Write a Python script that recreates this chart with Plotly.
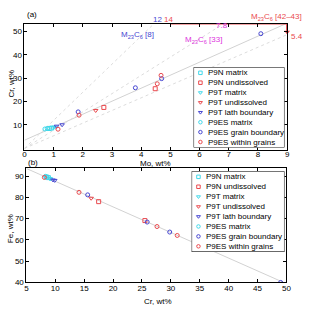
import plotly.graph_objects as go

W, H = 310, 314

# ---------------- data ----------------
labels = ["P9N matrix", "P9N undissolved", "P9T matrix", "P9T undissolved",
          "P9T lath boundary", "P9ES matrix", "P9ES grain boundary", "P9ES within grains"]
CY, RD, BL, MG = "#40d8ea", "#ea4a4e", "#4646d2", "#dd33dd"
symbols = ["square-open", "square-open", "triangle-down-open", "triangle-down-open",
           "triangle-down-open", "circle-open", "circle-open", "circle-open"]
colors = [CY, RD, CY, RD, BL, CY, BL, RD]

# panel (a): Mo vs Cr (wt%)
mo_a = [[0.85, 0.93], [2.72, 4.48], [0.97, 1.03], [2.44], [1.10, 1.29],
        [0.70, 0.78], [1.84, 3.80, 4.70, 8.10], [1.15, 1.87, 4.55, 4.68]]
cr_a = [[8.5, 8.7], [17.5, 25.5], [8.9, 9.1], [16.2], [9.5, 10.1],
        [8.3, 8.5], [15.6, 25.9, 29.8, 49.0], [8.2, 14.2, 27.6, 31.2]]

# panel (b): Cr vs Fe (wt%)
cr_b = [[8.5, 8.8], [17.5, 25.5], [9.0, 9.2], [16.2], [9.6, 9.9],
        [8.3, 8.6], [15.6, 25.9, 29.8, 49.0], [8.1, 14.1, 27.6, 31.1]]
fe_b = [[89.6, 89.3], [78.0, 69.1], [88.9, 88.7], [79.6], [88.2, 88.0],
        [89.9, 89.5], [81.2, 68.4, 63.7, 40.0], [89.4, 82.4, 66.3, 62.1]]

# fitted lines
fit_a_mo = [0, 9]
fit_a_cr = [3.5, 53.5]
fit_b_cr = [5, 49.5]
fit_b_fe = [93.6, 40.0]

# Cr/Mo ratio guide lines (dotted)
ratios = [5.4, 7.8, 12.0]

# ---------------- helpers ----------------
def px(x):
    return x / W

def py(y):
    return 1 - y / H

AX_A_X = [px(23), px(291.7)]
AX_A_Y = [py(152), py(24)]
AX_B_X = [px(25), px(291)]
AX_B_Y = [py(287), py(171)]
LEG_A = (196, 289, 68.3, 150)
LEG_B = (194, 289, 174, 256)

FONT = "Liberation Sans, Arial, sans-serif"
LINE_GREY = "#d2d2d2"

fig = go.Figure()

# fit + guide lines panel (a)
fig.add_trace(go.Scatter(x=fit_a_mo, y=fit_a_cr, mode="lines",
                         line=dict(color=LINE_GREY, width=1), showlegend=False,
                         xaxis="x", yaxis="y", hoverinfo="skip"))
for r in ratios:
    xe = min(9.0, 53.3 / r)
    fig.add_trace(go.Scatter(x=[0, xe], y=[0, r * xe], mode="lines",
                             line=dict(color="#dcdcdc", width=1, dash="dot"),
                             showlegend=False, xaxis="x", yaxis="y", hoverinfo="skip"))
# red range indicator
fig.add_trace(go.Scatter(x=[5, 9, 9], y=[53.3, 53.3, 49.7], mode="lines",
                         line=dict(color=RD, width=2), showlegend=False,
                         xaxis="x", yaxis="y", cliponaxis=False, hoverinfo="skip"))
fig.add_trace(go.Scatter(x=[5], y=[53.5], mode="markers",
                         marker=dict(symbol="triangle-left", size=5, color=RD),
                         showlegend=False, xaxis="x", yaxis="y", cliponaxis=False))
fig.add_trace(go.Scatter(x=[9], y=[49.7], mode="markers",
                         marker=dict(symbol="triangle-down", size=5, color=RD),
                         showlegend=False, xaxis="x", yaxis="y", cliponaxis=False))

# fit line panel (b)
fig.add_trace(go.Scatter(x=fit_b_cr, y=fit_b_fe, mode="lines",
                         line=dict(color=LINE_GREY, width=1), showlegend=False,
                         xaxis="x2", yaxis="y2", hoverinfo="skip"))

for i, lab in enumerate(labels):
    mk = dict(symbol=symbols[i], size=4, color=colors[i], line=dict(width=1, color=colors[i]))
    fig.add_trace(go.Scatter(x=mo_a[i], y=cr_a[i], mode="markers", marker=mk, name=lab,
                             showlegend=False, xaxis="x", yaxis="y"))
    fig.add_trace(go.Scatter(x=cr_b[i], y=fe_b[i], mode="markers", marker=mk, name=lab,
                             showlegend=False, xaxis="x2", yaxis="y2"))

# custom legends
annotations = []
for (xa, ya, box) in [("x3", "y3", LEG_A), ("x4", "y4", LEG_B)]:
    x0, x1, y0, y1 = box
    w, h = x1 - x0, y1 - y0
    fig.add_trace(go.Scatter(x=[0, w, w, 0, 0], y=[0, 0, h, h, 0], mode="lines",
                             fill="toself", fillcolor="white",
                             line=dict(color="black", width=1), showlegend=False,
                             xaxis=xa, yaxis=ya, hoverinfo="skip", cliponaxis=False))
    rows = [5.7 + i * (h - 11.4) / (len(labels) - 1) for i in range(len(labels))]
    for i, lab in enumerate(labels):
        fig.add_trace(go.Scatter(x=[7], y=[rows[i]], mode="markers",
                                 marker=dict(symbol=symbols[i], size=3.5, color=colors[i],
                                             line=dict(width=1, color=colors[i])),
                                 showlegend=False, xaxis=xa, yaxis=ya, hoverinfo="skip"))
        annotations.append(dict(x=12.5, y=rows[i], xref=xa, yref=ya, text=lab,
                                showarrow=False, xanchor="left", yanchor="middle",
                                font=dict(size=8, color="black", family=FONT)))

def ann(text, x, y, color="black", xanchor="center", angle=0, size=8):
    annotations.append(dict(text=text, x=px(x), y=py(y), xref="paper", yref="paper",
                            showarrow=False, xanchor=xanchor, yanchor="middle",
                            textangle=angle, font=dict(size=size, color=color, family=FONT)))

ann("(a)", 24, 15, xanchor="left")
ann("(b)", 25, 165, xanchor="left")
ann("Cr, wt%", 10, 85, angle=-90)
ann("Mo, wt%", 157, 166.5)
ann("Fe, wt%", 8, 232, angle=-90)
ann("Cr, wt%", 160, 306)
ann("12", 159, 20, color=BL)
ann("14", 170, 20, color=RD)
ann("M<sub>23</sub>C<sub>6</sub> [42–43]", 281, 17, color=RD)
ann("7.8", 225, 26, color=MG)
ann("5.4", 294, 37, color=RD, xanchor="left")
ann("M<sub>23</sub>C<sub>6</sub> [8]", 139, 36, color=BL)
ann("M<sub>23</sub>C<sub>6</sub> [33]", 206, 41, color=MG)

axcommon = dict(showline=True, linecolor="black", linewidth=1, mirror="ticks",
                ticks="inside", ticklen=3, tickcolor="black", showgrid=False,
                zeroline=False, tickfont=dict(size=8, color="black", family=FONT))

def hidden(domain, rng):
    return dict(domain=domain, range=rng, visible=False, showgrid=False, zeroline=False,
                fixedrange=True)

fig.update_layout(
    width=W, height=H, margin=dict(l=0, r=0, t=0, b=0),
    paper_bgcolor="white", plot_bgcolor="white", showlegend=False,
    font=dict(family=FONT, size=8, color="black"),
    xaxis=dict(domain=AX_A_X, range=[0, 9], tickvals=list(range(10)), anchor="y",
               ticklabelstandoff=-3, **axcommon),
    yaxis=dict(domain=AX_A_Y, range=[-0.5, 53.3], tickvals=[10, 20, 30, 40, 50], anchor="x", **axcommon),
    xaxis2=dict(domain=AX_B_X, range=[5, 50], tickvals=list(range(5, 51, 5)), anchor="y2",
                ticklabelstandoff=-2, **axcommon),
    yaxis2=dict(domain=AX_B_Y, range=[40, 93.7], tickvals=[40, 50, 60, 70, 80, 90], anchor="x2", **axcommon),
    xaxis3=dict(anchor="y3", **hidden([px(LEG_A[0]), px(LEG_A[1])], [0, LEG_A[1] - LEG_A[0]])),
    yaxis3=dict(anchor="x3", **hidden([py(LEG_A[3]), py(LEG_A[2])], [LEG_A[3] - LEG_A[2], 0])),
    xaxis4=dict(anchor="y4", **hidden([px(LEG_B[0]), px(LEG_B[1])], [0, LEG_B[1] - LEG_B[0]])),
    yaxis4=dict(anchor="x4", **hidden([py(LEG_B[3]), py(LEG_B[2])], [LEG_B[3] - LEG_B[2], 0])),
    annotations=annotations,
)

fig.write_html("out.html")
